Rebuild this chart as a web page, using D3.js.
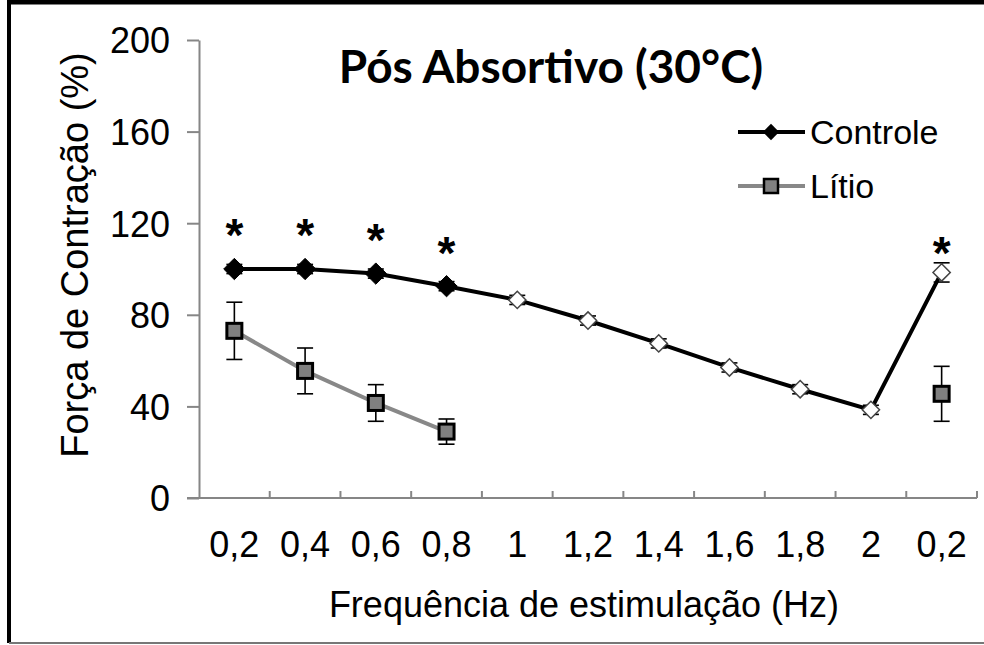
<!DOCTYPE html>
<html>
<head>
<meta charset="utf-8">
<script src="https://cdn.jsdelivr.net/npm/d3@7"></script>
<style>
  body { margin: 0; background: #fff; }
  svg { display: block; font-family: "Liberation Sans", Arial, sans-serif; }
  .axis path, .axis line { stroke: #868686; stroke-width: 2; }
  .axis text { fill: #000; font-size: 36px; }
</style>
</head>
<body>
<div id="chart"></div>
<script>
// categories (x axis), one per stimulation step
const categories = ["0,2", "0,4", "0,6", "0,8", "1", "1,2", "1,4", "1,6", "1,8", "2", "0,2"];

// Controle series (mean and error)
const controle = [100, 100, 98, 92.5, 86.5, 77.5, 67.5, 57, 47.5, 38.5, 98.5];
const controleErr = [2, 2, 2, 2, 2, 2, 2, 2, 2, 2, 4.2];
// which Controle points are drawn filled
const controleFilled = [true, true, true, true, false, false, false, false, false, false, false];

// Litio series (null = no measurement)
const litio = [73, 55.5, 41.5, 29, null, null, null, null, null, null, 45.5];
const litioErr = [12.5, 10, 8, 5.5, null, null, null, null, null, null, 12];

// significance markers: category index and height (in %)
const starIndex = [0, 1, 2, 3, 10];
const starValue = [119, 119, 117, 111.5, 111.5];

const yTicks = [0, 40, 80, 120, 160, 200];

const config = {
  width: 984,
  height: 645,
  margin: { top: 40, left: 199, right: 7, bottom: 147 }
};

const svg = d3.select("#chart").append("svg")
  .attr("width", config.width)
  .attr("height", config.height);

// frame around the picture
svg.append("line").attr("x1", 9).attr("x2", 984).attr("y1", 2).attr("y2", 2)
  .attr("stroke", "#000").attr("stroke-width", 5);
svg.append("line").attr("x1", 9).attr("x2", 9).attr("y1", 0).attr("y2", 643)
  .attr("stroke", "#000").attr("stroke-width", 4);
svg.append("line").attr("x1", 9).attr("x2", 984).attr("y1", 643).attr("y2", 643)
  .attr("stroke", "#777").attr("stroke-width", 2);

const innerW = config.width - config.margin.left - config.margin.right;
const innerH = config.height - config.margin.top - config.margin.bottom;

const x = d3.scaleBand()
  .domain(d3.range(categories.length))
  .range([config.margin.left, config.margin.left + innerW])
  .padding(0);

const y = d3.scaleLinear()
  .domain([0, 200])
  .range([config.margin.top + innerH, config.margin.top]);

const cx = i => x(i) + x.bandwidth() / 2;

// y axis
const yAxis = svg.append("g")
  .attr("class", "axis")
  .attr("transform", `translate(${config.margin.left},0)`)
  .call(d3.axisLeft(y).tickValues(yTicks).tickSize(12).tickSizeOuter(0).tickPadding(17));
yAxis.selectAll("text").attr("dy", "0.36em");

// x axis (labels centred in bands, tick marks between bands, pointing up)
const xAxis = svg.append("g")
  .attr("class", "axis")
  .attr("transform", `translate(0,${y(0)})`)
  .call(d3.axisBottom(x).tickSize(0).tickPadding(33).tickFormat(i => categories[i]));
xAxis.select(".domain").attr("d", `M${config.margin.left - 12},0H${config.margin.left + innerW}`);
xAxis.selectAll(".boundary")
  .data(d3.range(categories.length))
  .join("line")
  .attr("class", "boundary")
  .attr("x1", i => x(i) + x.bandwidth())
  .attr("x2", i => x(i) + x.bandwidth())
  .attr("y1", 0)
  .attr("y2", -7);

// axis titles
svg.append("text")
  .attr("x", 584).attr("y", 617)
  .attr("text-anchor", "middle")
  .style("font-size", "36px")
  .text("Frequência de estimulação (Hz)");

svg.append("text")
  .attr("transform", "translate(88,255) rotate(-90)")
  .attr("text-anchor", "middle")
  .style("font-size", "38px")
  .text("Força de Contração (%)");

// title
svg.append("text")
  .attr("x", 551).attr("y", 83)
  .attr("text-anchor", "middle")
  .style("font-family", "Lato, 'Liberation Sans', sans-serif")
  .style("font-weight", "bold")
  .style("font-size", "46px")
  .text("Pós Absortivo (30°C)");

// error bars
function errorBars(values, errs) {
  const d = d3.range(values.length).filter(i => values[i] != null && errs[i] != null);
  const g = svg.append("g").attr("stroke", "#000").attr("stroke-width", 1.6);
  d.forEach(i => {
    const lo = y(values[i] - errs[i]), hi = y(values[i] + errs[i]);
    g.append("line").attr("x1", cx(i)).attr("x2", cx(i)).attr("y1", lo).attr("y2", hi);
    g.append("line").attr("x1", cx(i) - 8).attr("x2", cx(i) + 8).attr("y1", lo).attr("y2", lo);
    g.append("line").attr("x1", cx(i) - 8).attr("x2", cx(i) + 8).attr("y1", hi).attr("y2", hi);
  });
}
errorBars(controle, controleErr);
errorBars(litio, litioErr);

const line = d3.line()
  .defined(d => d.v != null)
  .x(d => cx(d.i))
  .y(d => y(d.v));

const litioPts = litio.map((v, i) => ({ i, v }));
const controlePts = controle.map((v, i) => ({ i, v }));

svg.append("path")
  .datum(litioPts)
  .attr("fill", "none")
  .attr("stroke", "#888")
  .attr("stroke-width", 4)
  .attr("d", line);

svg.append("path")
  .datum(controlePts)
  .attr("fill", "none")
  .attr("stroke", "#000")
  .attr("stroke-width", 4)
  .attr("d", line);

const diamondFilled = d3.symbol().type(d3.symbolDiamond2).size(290);
const diamondOpen = d3.symbol().type(d3.symbolDiamond2).size(190);

svg.selectAll(".ctrl-pt")
  .data(controlePts)
  .join("path")
  .attr("class", "ctrl-pt")
  .attr("transform", d => `translate(${cx(d.i)},${y(d.v)})`)
  .attr("d", d => controleFilled[d.i] ? diamondFilled() : diamondOpen())
  .attr("fill", d => controleFilled[d.i] ? "#000" : "#fff")
  .attr("stroke", d => controleFilled[d.i] ? "#000" : "#444")
  .attr("stroke-width", d => controleFilled[d.i] ? 1 : 1.5);

svg.selectAll(".lit-pt")
  .data(litioPts.filter(d => d.v != null))
  .join("rect")
  .attr("class", "lit-pt")
  .attr("x", d => cx(d.i) - 7.5)
  .attr("y", d => y(d.v) - 7.5)
  .attr("width", 15)
  .attr("height", 15)
  .attr("fill", "#808080")
  .attr("stroke", "#000")
  .attr("stroke-width", 3);

// significance asterisks
svg.selectAll(".star")
  .data(starIndex)
  .join("text")
  .attr("class", "star")
  .attr("x", i => cx(i))
  .attr("y", (i, k) => y(starValue[k]) + 26)
  .attr("text-anchor", "middle")
  .style("font-size", "46px")
  .style("font-weight", "bold")
  .text("*");

// legend
const legend = svg.append("g").attr("transform", "translate(738,0)");
legend.append("line").attr("x1", 0).attr("x2", 67).attr("y1", 132).attr("y2", 132)
  .attr("stroke", "#000").attr("stroke-width", 4);
legend.append("path").attr("transform", "translate(33,132)")
  .attr("d", d3.symbol().type(d3.symbolDiamond2).size(170)()).attr("fill", "#000");
legend.append("text").attr("x", 72).attr("y", 132).attr("dy", "0.36em")
  .style("font-size", "34px").text("Controle");

legend.append("line").attr("x1", 0).attr("x2", 67).attr("y1", 186).attr("y2", 186)
  .attr("stroke", "#888").attr("stroke-width", 4);
legend.append("rect").attr("x", 33 - 7).attr("y", 186 - 7).attr("width", 14).attr("height", 14)
  .attr("fill", "#808080").attr("stroke", "#000").attr("stroke-width", 2.5);
legend.append("text").attr("x", 72).attr("y", 186).attr("dy", "0.36em")
  .style("font-size", "34px").text("Lítio");
</script>
</body>
</html>
